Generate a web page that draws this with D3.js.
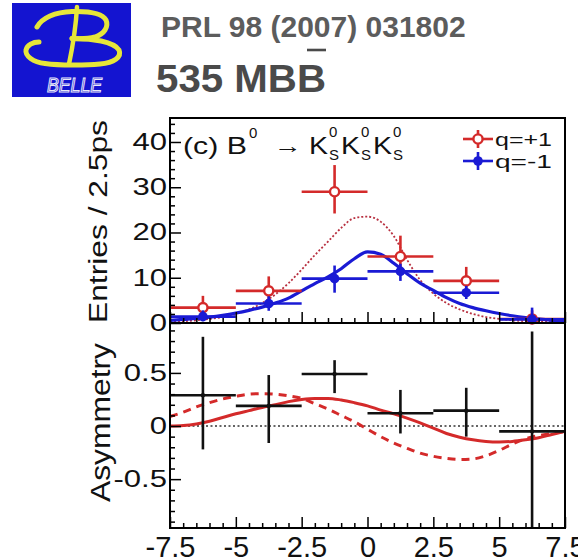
<!DOCTYPE html>
<html>
<head>
<meta charset="utf-8">
<script src="https://cdn.jsdelivr.net/npm/d3@7"></script>
<style>
  body { margin: 0; background: #fff; }
  text { font-family: "Liberation Sans", Arial, Helvetica, sans-serif; }
</style>
</head>
<body>
<svg id="chart" width="578" height="559"></svg>
<script>
// ---- data: proper-time difference bins (ps) ----
const binCentres = [-6.25, -3.75, -1.25, 1.25, 3.75, 6.25];
const binWidth = 2.5;

// Entries per 2.5 ps, q = +1 (B0 tag) and q = -1 (anti-B0 tag)
const qPlus   = [3.4, 7.1, 29.0, 14.7, 9.3, 0.9];
const qPlusLo = [1.5, 4.5, 24.2, 11.0, 6.3, 0.0];
const qPlusHi = [6.0, 10.3, 34.9, 19.3, 12.4, 2.8];
const qMinus   = [1.4, 4.3, 9.8, 11.4, 6.7, 0.8];
const qMinusLo = [0.4, 2.7, 6.7, 9.3, 5.3, 0.0];
const qMinusHi = [2.8, 5.9, 12.7, 13.1, 8.2, 3.4];

// Raw asymmetry per bin
const asym   = [0.29, 0.19, 0.49, 0.12, 0.145, -0.05];
const asymLo = [-0.22, -0.16, 0.31, -0.07, -0.10, -0.96];
const asymHi = [0.84, 0.48, 0.62, 0.34, 0.36, 0.89];

// Fit projections sampled on a Δt grid
const tGrid = [-7.5, -7, -6.5, -6, -5.5, -5, -4.5, -4, -3.5, -3, -2.5, -2, -1.5, -1, -0.5,
               0, 0.5, 1, 1.5, 2, 2.5, 3, 3.5, 4, 4.5, 5, 5.5, 6, 6.5, 7, 7.5];
const fitPlus  = [0.3, 0.4, 0.6, 0.9, 1.3, 2.0, 3.0, 4.4, 6.3, 8.8, 11.8, 15.0, 18.0, 21.0, 23.2,
                  23.5, 22.4, 19.2, 14.0, 9.5, 6.5, 4.4, 3.0, 2.0, 1.3, 0.9, 0.6, 0.4, 0.3, 0.2, 0.15];
const fitMinus = [0.6, 0.8, 1.0, 1.3, 1.7, 2.2, 2.8, 3.5, 4.4, 5.5, 7.1, 8.7, 10.2, 12.0, 14.2,
                  15.7, 15.2, 13.2, 10.9, 8.8, 7.2, 5.6, 4.3, 3.4, 2.7, 2.1, 1.6, 1.2, 0.9, 0.6, 0.4];
const asymFit  = [0.0, 0.005, 0.02, 0.045, 0.08, 0.115, 0.145, 0.175, 0.2, 0.23, 0.25, 0.26, 0.26, 0.245, 0.22,
                  0.19, 0.15, 0.115, 0.075, 0.03, -0.02, -0.07, -0.105, -0.13, -0.145, -0.15, -0.145, -0.13, -0.11, -0.08, -0.05];
const asymSM   = [0.09, 0.13, 0.18, 0.22, 0.255, 0.28, 0.3, 0.305, 0.3, 0.285, 0.26, 0.21, 0.16, 0.1, 0.04,
                  -0.03, -0.1, -0.16, -0.21, -0.255, -0.285, -0.305, -0.315, -0.31, -0.28, -0.23, -0.17, -0.12, -0.09, -0.07, -0.05];

// Tick values
const xMajor = [-7.5, -5, -2.5, 0, 2.5, 5, 7.5];
const xMinor = [-7, -6.5, -6, -5.5, -4.5, -4, -3.5, -3, -2, -1.5, -1, -0.5,
                0.5, 1, 1.5, 2, 3, 3.5, 4, 4.5, 5.5, 6, 6.5, 7];
const nMajor = [0, 10, 20, 30, 40];
const nMinor = [2, 4, 6, 8, 12, 14, 16, 18, 22, 24, 26, 28, 32, 34, 36, 38, 42, 44];
const aMajor = [-0.5, 0, 0.5];
const aMinor = [-0.9, -0.8, -0.7, -0.6, -0.4, -0.3, -0.2, -0.1, 0.1, 0.2, 0.3, 0.4, 0.6, 0.7, 0.8, 0.9];

// ---- drawing ----
const RED = "#d42a2a", BLUE = "#1a1ad4", DARK = "#111";
const svg = d3.select("#chart");

const x  = d3.scaleLinear().domain([-7.5, 7.5]).range([170, 565]);
const yN = d3.scaleLinear().domain([0, 45.3]).range([323, 118]);
const yA = d3.scaleLinear().domain([-0.96, 0.97]).range([528, 323]);

function stretch(sel, factor) {
  sel.each(function () {
    const w = this.getComputedTextLength();
    d3.select(this).attr("textLength", w * factor).attr("lengthAdjust", "spacingAndGlyphs");
  });
}

// Belle logo
const logo = svg.append("g");
logo.append("rect").attr("x", 12).attr("y", 3).attr("width", 119).attr("height", 94).attr("fill", "#1414d0");
const yel = "#e6e63a";
logo.append("path")
  .attr("d", "M37,27 C42,18 55,12 72,11.5 C88,11 102,13 106,20 C109,27 104,34 95,37 C88,39 80,39 72,38.5")
  .attr("fill", "none").attr("stroke", yel).attr("stroke-width", 5).attr("stroke-linecap", "round");
logo.append("path")
  .attr("d", "M72,38.5 C92,38 114,42 119,50 C122,57 114,63 100,64 C85,65.5 60,65.5 45,63.5 C33,62 25,56 26,50 C27,45 33,42 39,42")
  .attr("fill", "none").attr("stroke", yel).attr("stroke-width", 5).attr("stroke-linecap", "round");
logo.append("path")
  .attr("d", "M77,7 C76,25 73,45 69,64")
  .attr("fill", "none").attr("stroke", yel).attr("stroke-width", 4.5).attr("stroke-linecap", "round");
logo.append("text").attr("x", 47).attr("y", 91.5).text("BELLE")
  .attr("font-size", 20).attr("font-style", "italic").attr("fill", "#1414d0")
  .attr("stroke", "#e8e8f8").attr("stroke-width", 1.1)
  .attr("textLength", 55).attr("lengthAdjust", "spacingAndGlyphs");

// Header
svg.append("text").attr("x", 161).attr("y", 36.7).text("PRL 98 (2007) 031802")
  .attr("font-size", 30).attr("font-weight", "bold").attr("fill", "#5c5c5c");
svg.append("text").attr("x", 156).attr("y", 91.7).text("535 MBB")
  .attr("font-size", 39).attr("font-weight", "bold").attr("fill", "#4a4a4a")
  .attr("textLength", 170).attr("lengthAdjust", "spacingAndGlyphs");
svg.append("line").attr("x1", 307).attr("x2", 326).attr("y1", 50).attr("y2", 50)
  .attr("stroke", "#4a4a4a").attr("stroke-width", 2.6);

// ---- upper panel: tagged Δt distributions ----
const upper = svg.append("g");
const lineN = d3.line().x((d, i) => x(tGrid[i])).y(d => yN(d)).curve(d3.curveMonotoneX);

upper.append("path").datum(fitPlus).attr("d", lineN)
  .attr("fill", "none").attr("stroke", "#b83040").attr("stroke-width", 1.8).attr("stroke-dasharray", "2,2");
upper.append("path").datum(fitMinus).attr("d", lineN)
  .attr("fill", "none").attr("stroke", BLUE).attr("stroke-width", 3.2);

function drawPoints(g, ys, lo, hi, yScale, color, marker) {
  const pts = g.append("g");
  binCentres.forEach((c, i) => {
    if (ys[i] == null) return;
    pts.append("line").attr("x1", x(c - binWidth / 2)).attr("x2", x(c + binWidth / 2))
      .attr("y1", yScale(ys[i])).attr("y2", yScale(ys[i]))
      .attr("stroke", color).attr("stroke-width", 2.6);
    pts.append("line").attr("x1", x(c)).attr("x2", x(c))
      .attr("y1", yScale(lo[i])).attr("y2", yScale(hi[i]))
      .attr("stroke", color).attr("stroke-width", 2.6);
    if (marker === "open") {
      pts.append("circle").attr("cx", x(c)).attr("cy", yScale(ys[i])).attr("r", 4.6)
        .attr("fill", "#fff").attr("stroke", color).attr("stroke-width", 2.4);
    } else if (marker === "full") {
      pts.append("circle").attr("cx", x(c)).attr("cy", yScale(ys[i])).attr("r", 4.8).attr("fill", color);
    } else {
      pts.append("circle").attr("cx", x(c)).attr("cy", yScale(ys[i])).attr("r", 2.2).attr("fill", color);
    }
  });
}
drawPoints(upper, qPlus, qPlusLo, qPlusHi, yN, RED, "open");
drawPoints(upper, qMinus, qMinusLo, qMinusHi, yN, BLUE, "full");

// ---- lower panel: asymmetry ----
const lower = svg.append("g");
lower.append("line").attr("x1", x(-7.5)).attr("x2", x(7.5)).attr("y1", yA(0)).attr("y2", yA(0))
  .attr("stroke", "#333").attr("stroke-width", 1.5).attr("stroke-dasharray", "2,2.5");
const lineA = d3.line().x((d, i) => x(tGrid[i])).y(d => yA(d)).curve(d3.curveMonotoneX);
lower.append("path").datum(asymSM).attr("d", lineA)
  .attr("fill", "none").attr("stroke", RED).attr("stroke-width", 3).attr("stroke-dasharray", "8,6");
lower.append("path").datum(asymFit).attr("d", lineA)
  .attr("fill", "none").attr("stroke", RED).attr("stroke-width", 3);
drawPoints(lower, asym, asymLo, asymHi, yA, DARK, "dot");

// ---- axes ----
function styleAxis(g) {
  g.select(".domain").remove();
  g.selectAll(".tick line").attr("stroke", "#000").attr("stroke-width", 1.5);
}
// upper panel
svg.append("g").attr("transform", "translate(170,0)")
  .call(d3.axisLeft(yN).tickValues(nMinor).tickSize(-5).tickFormat(""))
  .call(styleAxis);
const nAxis = svg.append("g").attr("transform", "translate(170,0)")
  .call(d3.axisLeft(yN).tickValues(nMajor).tickSize(-11).tickPadding(3).tickFormat(d => String(d)))
  .call(styleAxis);
nAxis.selectAll("text").attr("font-size", 23).attr("fill", "#111").call(stretch, 1.35);
svg.append("g").attr("transform", "translate(0,323)")
  .call(d3.axisBottom(x).tickValues(xMinor).tickSize(-5).tickFormat(""))
  .call(styleAxis);
svg.append("g").attr("transform", "translate(0,323)")
  .call(d3.axisBottom(x).tickValues(xMajor).tickSize(-11).tickFormat(""))
  .call(styleAxis);

// lower panel
svg.append("g").attr("transform", "translate(170,0)")
  .call(d3.axisLeft(yA).tickValues(aMinor).tickSize(-5).tickFormat(""))
  .call(styleAxis);
const aAxis = svg.append("g").attr("transform", "translate(170,0)")
  .call(d3.axisLeft(yA).tickValues(aMajor).tickSize(-11).tickPadding(3).tickFormat(d => String(d)))
  .call(styleAxis);
aAxis.selectAll("text").attr("font-size", 23).attr("fill", "#111").call(stretch, 1.35);
svg.append("g").attr("transform", "translate(0,528)")
  .call(d3.axisBottom(x).tickValues(xMinor).tickSize(-5).tickFormat(""))
  .call(styleAxis);
const xAxis = svg.append("g").attr("transform", "translate(0,528)")
  .call(d3.axisBottom(x).tickValues(xMajor).tickSize(-11).tickPadding(8).tickFormat(d => String(d)))
  .call(styleAxis);
xAxis.selectAll("text").attr("font-size", 29).attr("fill", "#111");

// frames
svg.append("rect").attr("x", 170).attr("y", 118).attr("width", 395).attr("height", 205)
  .attr("fill", "none").attr("stroke", "#000").attr("stroke-width", 2);
svg.append("rect").attr("x", 170).attr("y", 323).attr("width", 395).attr("height", 205)
  .attr("fill", "none").attr("stroke", "#000").attr("stroke-width", 2);

// axis titles
svg.append("text").attr("transform", "translate(107,221.5) rotate(-90)")
  .attr("text-anchor", "middle").attr("font-size", 25).attr("fill", "#111")
  .attr("textLength", 203).attr("lengthAdjust", "spacingAndGlyphs")
  .text("Entries / 2.5ps");
svg.append("text").attr("transform", "translate(110,422.5) rotate(-90)")
  .attr("text-anchor", "middle").attr("font-size", 27).attr("fill", "#111")
  .attr("textLength", 159).attr("lengthAdjust", "spacingAndGlyphs")
  .text("Asymmetry");

// decay-mode label
const ann = svg.append("g").attr("fill", "#111");
ann.append("text").attr("x", 183).attr("y", 154).attr("font-size", 24)
  .attr("textLength", 64).attr("lengthAdjust", "spacingAndGlyphs").text("(c) B");
ann.append("text").attr("x", 249).attr("y", 138).attr("font-size", 15).text("0");
ann.append("text").attr("x", 274).attr("y", 153).attr("font-size", 22)
  .attr("textLength", 28).attr("lengthAdjust", "spacingAndGlyphs").text("→");
[309, 341, 373].forEach(kx => {
  ann.append("text").attr("x", kx).attr("y", 154).attr("font-size", 24)
    .attr("textLength", 19).attr("lengthAdjust", "spacingAndGlyphs").text("K");
  ann.append("text").attr("x", kx + 20).attr("y", 137).attr("font-size", 15).text("0");
  ann.append("text").attr("x", kx + 20).attr("y", 160).attr("font-size", 15).text("S");
});

// legend
const legend = svg.append("g");
[{ label: "q=+1", color: RED, marker: "open", y: 139 },
 { label: "q=-1", color: BLUE, marker: "full", y: 161 }].forEach(e => {
  legend.append("line").attr("x1", 463).attr("x2", 493).attr("y1", e.y).attr("y2", e.y)
    .attr("stroke", e.color).attr("stroke-width", 2.6);
  legend.append("line").attr("x1", 478).attr("x2", 478).attr("y1", e.y - 9).attr("y2", e.y + 9)
    .attr("stroke", e.color).attr("stroke-width", 2.6);
  if (e.marker === "open") {
    legend.append("circle").attr("cx", 478).attr("cy", e.y).attr("r", 4.6)
      .attr("fill", "#fff").attr("stroke", e.color).attr("stroke-width", 2.4);
  } else {
    legend.append("circle").attr("cx", 478).attr("cy", e.y).attr("r", 4.8).attr("fill", e.color);
  }
  legend.append("text").attr("x", 495).attr("y", e.y + 6.5).attr("font-size", 19).attr("fill", "#111")
    .attr("textLength", 57).attr("lengthAdjust", "spacingAndGlyphs").text(e.label);
});
</script>
</body>
</html>
